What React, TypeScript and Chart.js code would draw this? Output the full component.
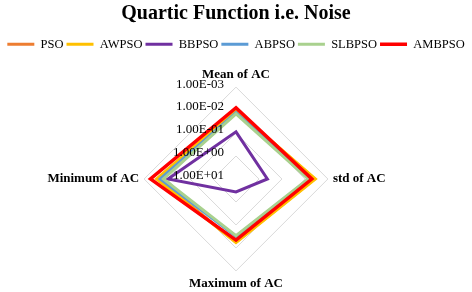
import React, { useEffect, useRef } from "react";
import { Chart, registerables } from "chart.js";

Chart.register(...registerables);

const categories = ["Mean of AC", "std of AC", "Maximum of AC", "Minimum of AC"];
const seriesNames = ["PSO", "AWPSO", "BBPSO", "ABPSO", "SLBPSO", "AMBPSO"];
const PSO = [1.07e-2, 3.8e-3, 1.8e-2, 4.0e-3];
const AWPSO = [1.0e-2, 3.5e-3, 1.7e-2, 3.5e-3];
const BBPSO = [8.9e-2, 4.3e-1, 2.75, 1.1e-2];
const ABPSO = [1.3e-2, 6.6e-3, 3.2e-2, 5.0e-3];
const SLBPSO = [1.45e-2, 7.2e-3, 3.4e-2, 6.9e-3];
const AMBPSO = [7.9e-3, 5.0e-3, 2.2e-2, 1.9e-3];
const tickLabels = ["1.00E+01", "1.00E+00", "1.00E-01", "1.00E-02", "1.00E-03"];
const tickValues = [10, 1, 0.1, 0.01, 0.001];

const seriesValues = [PSO, AWPSO, BBPSO, ABPSO, SLBPSO, AMBPSO];
const colors = ["#ED7D31", "#FFC000", "#7030A0", "#5B9BD5", "#A9D18E", "#FF0000"];
const FONT = "'Times New Roman', 'Liberation Serif', serif";

const toAxis = (v: number) => -Math.log10(v);

const tickLabelPlugin = {
  id: "tickLabelPlugin",
  afterDatasetsDraw(chart: any) {
    const r = chart.scales.r;
    const ctx = chart.ctx;
    ctx.save();
    ctx.font = `13px ${FONT}`;
    ctx.fillStyle = "#000";
    ctx.textAlign = "right";
    ctx.textBaseline = "middle";
    tickValues.forEach((tv, i) => {
      const d = r.getDistanceFromCenterForValue(toAxis(tv));
      ctx.fillText(tickLabels[i], r.xCenter - 12, r.yCenter - d - 3);
    });
    ctx.restore();
  },
};

const legendMarginPlugin = {
  id: "legendMargin",
  afterInit(chart: any) {
    const legend = chart.legend;
    if (legend && !legend._patched) {
      const orig = legend.fit;
      legend.fit = function () {
        orig.call(this);
        this.height += 6;
      };
      legend._patched = true;
    }
  },
};

export default function App() {
  const ref = useRef<HTMLCanvasElement>(null);
  useEffect(() => {
    document.body.style.margin = "0";
    const chart = new Chart(ref.current!, {
      type: "radar",
      data: {
        labels: categories,
        datasets: seriesValues.map((vals, i) => ({
          label: seriesNames[i],
          data: vals.map(toAxis),
          borderColor: colors[i],
          backgroundColor: colors[i],
          borderWidth: i === 5 ? 3.5 : 3,
          fill: false,
          pointRadius: 0,
          pointHoverRadius: 0,
          pointStyle: "line" as const,
          borderJoinStyle: "miter" as const,
          order: seriesNames.length - i,
        })),
      },
      options: {
        responsive: false,
        animation: false,
        devicePixelRatio: 1,
        layout: { padding: { top: 0, bottom: -7, left: 0, right: 0 } },
        plugins: {
          title: {
            display: true,
            text: "Quartic Function i.e. Noise",
            color: "#000",
            font: { family: FONT, size: 20, weight: "bold" },
            padding: { top: 2, bottom: 9 },
          },
          legend: {
            display: true,
            position: "top",
            labels: {
              color: "#000",
              font: { family: FONT, size: 12.5 },
              usePointStyle: true,
              pointStyle: "line",
              pointStyleWidth: 27,
              boxHeight: 12,
              padding: 3,
              sort: (a: any, b: any) => a.datasetIndex - b.datasetIndex,
            },
          },
          tooltip: { enabled: false },
        },
        scales: {
          r: {
            min: -1,
            max: 3,
            ticks: {
              stepSize: 1,
              display: false,
              callback: (v: any, i: number) => tickLabels[i] ?? "",
            },
            grid: { color: "#D9D9D9", lineWidth: 1 },
            angleLines: { display: false },
            pointLabels: {
              color: "#000",
              font: { family: FONT, size: 13, weight: "bold" },
              padding: 5,
            },
          },
        },
      },
      plugins: [legendMarginPlugin, tickLabelPlugin],
    });
    return () => chart.destroy();
  }, []);
  return (
    <div style={{ width: 472, height: 292 }}>
      <canvas ref={ref} width={472} height={292} />
    </div>
  );
}
